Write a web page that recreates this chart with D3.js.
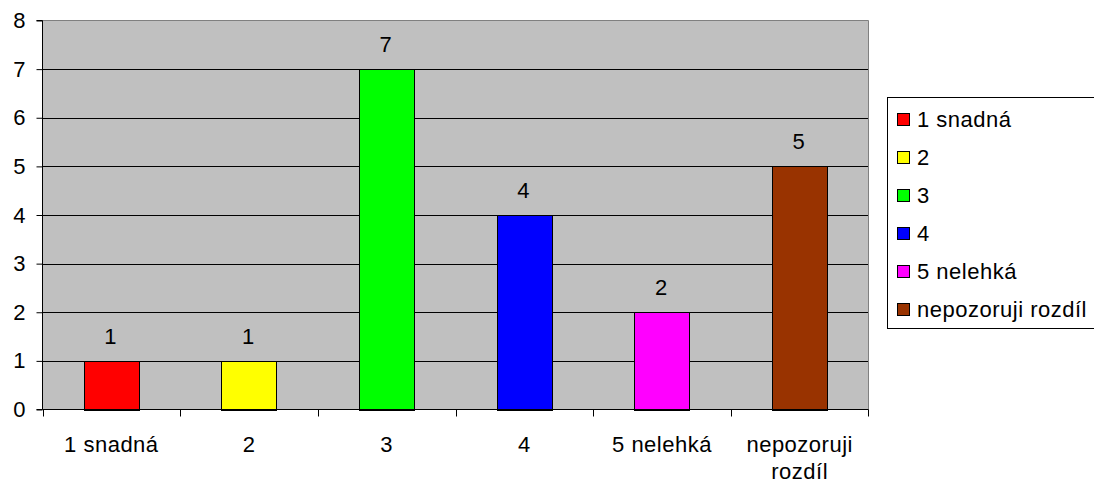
<!DOCTYPE html>
<html>
<head>
<meta charset="utf-8">
<script src="https://cdn.jsdelivr.net/npm/d3@7"></script>
<style>
  html, body { margin: 0; padding: 0; background: #fff; }
  svg { display: block; font-family: "Liberation Sans", Arial, sans-serif; }
</style>
</head>
<body>
<svg id="chart" width="1094" height="486"></svg>
<script>
// Answers per difficulty rating
const categories = ["1 snadná", "2", "3", "4", "5 nelehká", "nepozoruji rozdíl"];
const counts = [1, 1, 7, 4, 2, 5];
const colors = ["#ff0000", "#ffff00", "#00ff00", "#0000ff", "#ff00ff", "#993300"];
const yTicks = [0, 1, 2, 3, 4, 5, 6, 7, 8];

const svg = d3.select("#chart");
const plot = { left: 42.5, right: 868.5, top: 20.5, bottom: 409.5 };
const fontSize = 22;
const spacing = "0.5px";

const x = d3.scaleBand().domain(categories).range([plot.left, plot.right]).paddingInner(0).paddingOuter(0);
const y = d3.scaleLinear().domain([0, 8]).range([plot.bottom, plot.top]);

// plot background
svg.append("rect")
  .attr("x", plot.left).attr("y", plot.top)
  .attr("width", plot.right - plot.left).attr("height", plot.bottom - plot.top)
  .attr("fill", "#c0c0c0");

// gridlines
svg.append("g").selectAll("line")
  .data(yTicks.filter(d => d > 0 && d < 8))
  .join("line")
  .attr("x1", plot.left).attr("x2", plot.right)
  .attr("y1", d => Math.round(y(d)) + 0.5).attr("y2", d => Math.round(y(d)) + 0.5)
  .attr("stroke", "#000").attr("stroke-width", 1);

// top/right border of plot area
svg.append("path")
  .attr("d", `M${plot.left},${plot.top}H${plot.right}V${plot.bottom}`)
  .attr("fill", "none").attr("stroke", "#808080").attr("stroke-width", 1);

// bars
const barW = x.bandwidth() * 0.4;
svg.append("g").selectAll("rect")
  .data(counts)
  .join("rect")
  .attr("x", (d, i) => Math.round(x(categories[i]) + (x.bandwidth() - barW) / 2) + 0.5)
  .attr("y", d => Math.round(y(d)) + 0.5)
  .attr("width", Math.round(barW))
  .attr("height", d => Math.round(y(0)) - Math.round(y(d)))
  .attr("fill", (d, i) => colors[i])
  .attr("stroke", "#000").attr("stroke-width", 1);

// value labels
svg.append("g").selectAll("text")
  .data(counts)
  .join("text")
  .attr("x", (d, i) => x(categories[i]) + x.bandwidth() / 2 - 1)
  .attr("y", d => y(d) - 17)
  .attr("text-anchor", "middle")
  .attr("font-size", fontSize)
  .attr("fill", "#000")
  .text(d => d);

// y axis
const yAxis = d3.axisLeft(y).tickValues(yTicks).tickSize(6).tickPadding(11).tickFormat(d3.format("d"));
const gy = svg.append("g").attr("transform", `translate(${plot.left},0)`).call(yAxis);
gy.select(".domain").attr("stroke", "#000").attr("d", `M-6,${plot.top}H0V${plot.bottom}H-6`);
gy.selectAll(".tick line").attr("stroke", "#000");
gy.selectAll(".tick text").attr("font-size", fontSize).attr("font-family", "Liberation Sans, Arial, sans-serif").attr("fill", "#000");

// x axis: ticks at category boundaries
const xAxisG = svg.append("g");
xAxisG.append("line")
  .attr("x1", plot.left).attr("x2", plot.right)
  .attr("y1", plot.bottom).attr("y2", plot.bottom)
  .attr("stroke", "#000");
const bounds = categories.map(c => x(c)).concat([x(categories[categories.length - 1]) + x.bandwidth()]);
xAxisG.selectAll("line.tick")
  .data(bounds)
  .join("line")
  .attr("class", "tick")
  .attr("x1", d => Math.round(d) + 0.5).attr("x2", d => Math.round(d) + 0.5)
  .attr("y1", plot.bottom).attr("y2", plot.bottom + 7)
  .attr("stroke", "#000");

// category labels (wrapped)
const catLines = { "nepozoruji rozdíl": ["nepozoruji", "rozdíl"] };
const catText = xAxisG.selectAll("text.cat")
  .data(categories)
  .join("text")
  .attr("class", "cat")
  .attr("y", 452)
  .attr("text-anchor", "middle")
  .attr("font-size", fontSize)
  .attr("letter-spacing", spacing)
  .attr("fill", "#000");
catText.each(function (d) {
  const lines = catLines[d] || [d];
  const t = d3.select(this);
  lines.forEach((ln, k) => {
    t.append("tspan").attr("x", x(d) + x.bandwidth() / 2).attr("dy", k === 0 ? 0 : 27).text(ln);
  });
});

// legend
const legend = svg.append("g");
legend.append("rect")
  .attr("x", 887.5).attr("y", 97.5)
  .attr("width", 210).attr("height", 231)
  .attr("fill", "#fff").attr("stroke", "#000");
const rowY = i => 120 + i * 38;
const items = legend.selectAll("g.item")
  .data(categories)
  .join("g")
  .attr("class", "item");
items.append("rect")
  .attr("x", 897.5).attr("y", (d, i) => rowY(i) - 6.5)
  .attr("width", 12).attr("height", 12)
  .attr("fill", (d, i) => colors[i])
  .attr("stroke", "#000");
items.append("text")
  .attr("x", 917).attr("y", (d, i) => rowY(i) + 7)
  .attr("font-size", fontSize)
  .attr("letter-spacing", spacing)
  .attr("fill", "#000")
  .text(d => d);
</script>
</body>
</html>
